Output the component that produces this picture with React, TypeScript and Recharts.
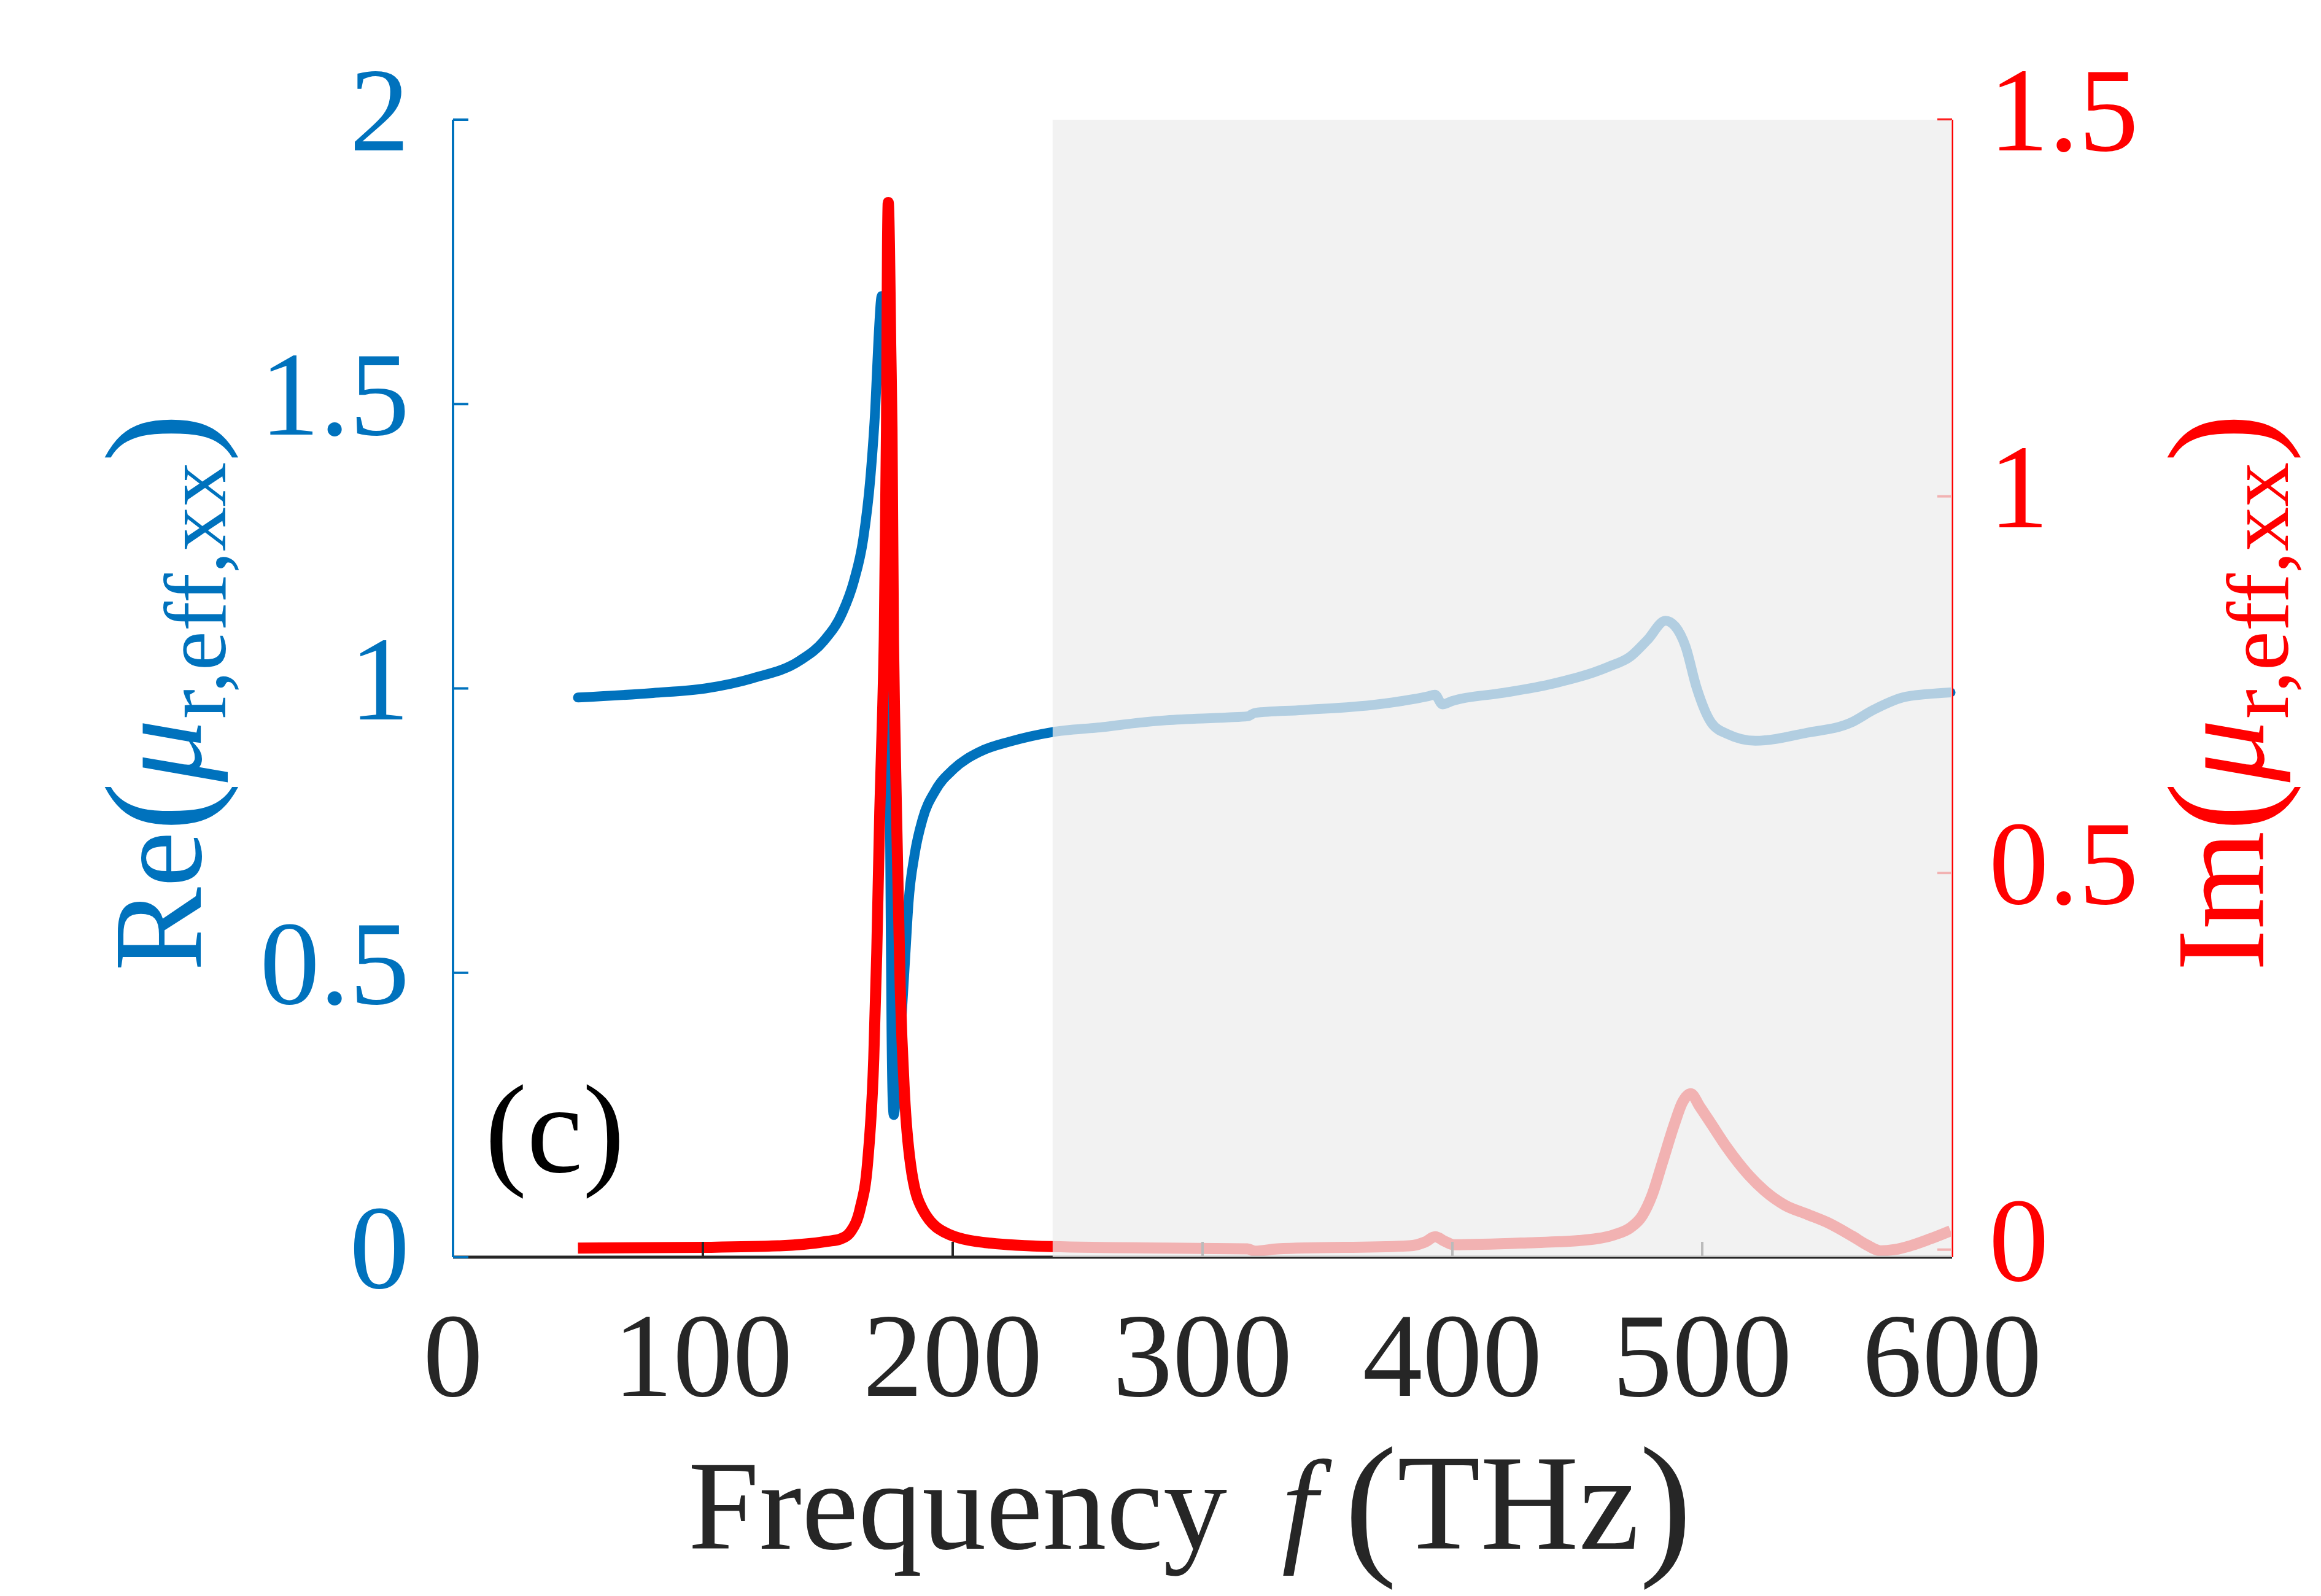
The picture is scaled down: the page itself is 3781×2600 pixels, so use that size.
import React from 'react';
import {
  ComposedChart,
  Line,
  XAxis,
  YAxis,
  ReferenceArea,
} from 'recharts';

// Re(mu) – frequency (THz) and value
const reFreq = [
  50, 80, 101, 120, 138.8, 148.3, 155.8, 160.4, 164.2, 167, 169, 170.3, 171.6, 172.5, 173.5,
  174.5, 175, 175.5, 176, 176.4, 177.4, 179.4, 181.1, 182.3, 184.8, 188, 193, 200.3, 211,
  223.3, 239.6, 260, 275, 285.5, 310, 318, 321, 340, 370, 390, 393, 396, 400, 420, 438.8,
  462.4, 471.2, 478, 485.3, 489, 493.3, 497.7, 503.6, 510, 521.3, 541.9, 559.6, 568.4,
  580.2, 590, 599.4,
];
const reVal = [
  0.984, 0.992, 1.0, 1.018, 1.049, 1.083, 1.133, 1.188, 1.263, 1.368, 1.492, 1.616, 1.69,
  1.66, 1.5, 1.0, 0.7, 0.4, 0.27, 0.25, 0.287, 0.411, 0.535, 0.622, 0.709, 0.771, 0.82,
  0.858, 0.889, 0.907, 0.923, 0.932, 0.94, 0.944, 0.949, 0.951, 0.957, 0.962, 0.972,
  0.986, 0.989, 0.972, 0.978, 0.992, 1.007, 1.038, 1.056, 1.085, 1.119, 1.11, 1.074,
  1.002, 0.94, 0.92, 0.908, 0.922, 0.94, 0.962, 0.984, 0.99, 0.993,
];

// Im(mu)
const imFreq = [
  50, 100, 130, 150, 155, 159.4, 163, 165.9, 168.4, 169.6, 170.8, 172, 172.6, 173.5, 173.9,
  174.2, 174.7, 175.2, 175.7, 176.3, 176.8, 177.8, 179, 180.7, 183.1, 188, 198.7, 215,
  239.6, 285.5, 318, 321, 330, 382.8, 389, 393.1, 397, 400.5, 430, 450.6, 465, 471.2, 476,
  480, 484, 488.9, 492, 495.4, 499, 503.6, 510, 518.4, 525, 533.1, 542, 550.8, 560, 566,
  571.4, 577, 583.2, 591, 599.4,
];
const imVal = [
  0.002, 0.003, 0.005, 0.011, 0.014, 0.025, 0.055, 0.114, 0.254, 0.394, 0.581, 0.72, 0.81,
  1.09, 1.33, 1.39, 1.33, 1.2, 1.09, 0.81, 0.7, 0.534, 0.347, 0.207, 0.114, 0.053, 0.02,
  0.0086, 0.004, 0.002, 0.001, -0.002, 0.001, 0.005, 0.01, 0.017, 0.011, 0.0065, 0.009,
  0.012, 0.02, 0.029, 0.045, 0.073, 0.115, 0.167, 0.195, 0.207, 0.19, 0.167, 0.135,
  0.0996, 0.078, 0.059, 0.047, 0.035, 0.018, 0.006, -0.0016, 0.0, 0.005, 0.014, 0.025,
];

const xTicks = [0, 100, 200, 300, 400, 500, 600];
const leftTicks = [0, 0.5, 1, 1.5, 2];
const rightTicks = [0, 0.5, 1, 1.5];
const shadeFrom = 240;

const reData = reFreq.map((f, i) => ({ f, v: reVal[i] }));
const imData = imFreq.map((f, i) => ({ f, v: imVal[i] }));

const BLUE = '#0072BD';
const RED = '#FF0000';
const INK = '#262626';
const FONT = 'Liberation Serif';

const W = 3781;
const H = 2600;
const LEFT = 738;
const RIGHT = 3180;
const TOP = 195;
const BOTTOM = 2048;

const YTitle = ({ head, x, color }: { head: string; x: number; color: string }) => (
  <text
    transform="rotate(-90)"
    x={-(TOP + BOTTOM) / 2 - 6}
    y={x}
    textAnchor="middle"
    fill={color}
    fontFamily={FONT}
    fontSize={205}
  >
    <tspan>{head}</tspan>
    <tspan fontSize={240} dy={10}>(</tspan>
    <tspan fontStyle="italic" fontSize={205} dy={-10}>μ</tspan>
    <tspan fontSize={145} dy={40}>r,eff,xx</tspan>
    <tspan fontSize={240} dy={-30}>)</tspan>
  </text>
);

const Titles = () => (
  <g>
    <text x={1121} y={2523} fill={INK} fontFamily={FONT} fontSize={208}>
      <tspan>Frequency</tspan>
      <tspan x={2088} fontStyle="italic">f</tspan>
      <tspan x={2190} fontSize={258} dy={12}>(</tspan>
      <tspan fontSize={222} dy={-12}>THz</tspan>
      <tspan fontSize={258} dy={12}>)</tspan>
    </text>
    <YTitle head="Re" x={327} color={BLUE} />
    <YTitle head="Im" x={3687} color={RED} />
    <text x={790} y={1909} fill="#000" fontFamily={FONT} fontSize={205}>
      (c)
    </text>
  </g>
);

export default function App() {
  return (
    <div style={{ width: W, height: H, background: '#fff' }}>
      <style>{'body{margin:0}'}</style>
      <ComposedChart
        width={W}
        height={H}
        margin={{ top: TOP, right: 0, bottom: 0, left: 0 }}
      >
        <XAxis
          xAxisId="b"
          type="number"
          dataKey="f"
          domain={[0, 600]}
          ticks={xTicks}
          height={H - BOTTOM}
          axisLine={{ stroke: INK, strokeWidth: 5 }}
          tickLine={{ stroke: INK, strokeWidth: 4 }}
          tickSize={-25}
          tickMargin={113}
          tick={{ fill: INK, fontSize: 195, fontFamily: FONT }}
          label={<Titles />}
        />
        <XAxis
          xAxisId="t"
          orientation="top"
          type="number"
          dataKey="f"
          domain={[0, 600]}
          ticks={xTicks}
          height={0}
          axisLine={{ stroke: INK, strokeWidth: 5 }}
          tickLine={{ stroke: INK, strokeWidth: 4 }}
          tickSize={-25}
          tick={false}
        />
        <YAxis
          yAxisId="re"
          orientation="left"
          domain={[0, 2]}
          ticks={leftTicks}
          width={LEFT}
          axisLine={{ stroke: BLUE, strokeWidth: 4 }}
          tickLine={{ stroke: BLUE, strokeWidth: 4 }}
          tickSize={-25}
          tickMargin={96}
          tick={{ fill: BLUE, fontSize: 195, fontFamily: FONT, dy: -19 }}
        />
        <YAxis
          yAxisId="im"
          orientation="right"
          domain={[-0.01, 1.5]}
          ticks={rightTicks}
          width={W - RIGHT}
          axisLine={{ stroke: RED, strokeWidth: 4 }}
          tickLine={{ stroke: RED, strokeWidth: 4 }}
          tickSize={-24}
          tickMargin={84}
          tick={{ fill: RED, fontSize: 195, fontFamily: FONT, dy: -19 }}
        />
        <Line
          data={reData}
          xAxisId="b"
          yAxisId="re"
          dataKey="v"
          type="monotone"
          stroke={BLUE}
          strokeWidth={16}
          strokeLinejoin="round"
          strokeLinecap="round"
          dot={false}
          isAnimationActive={false}
        />
        <Line
          data={imData}
          xAxisId="b"
          yAxisId="im"
          dataKey="v"
          type="monotone"
          stroke={RED}
          strokeWidth={18}
          strokeLinejoin="round"
          dot={false}
          isAnimationActive={false}
        />
        <ReferenceArea
          xAxisId="b"
          yAxisId="re"
          x1={shadeFrom}
          x2={600}
          y1={0}
          y2={2}
          fill="#EEEEEE"
          fillOpacity={0.75}
          stroke="none"
          zIndex={2000}
        />
      </ComposedChart>
    </div>
  );
}
